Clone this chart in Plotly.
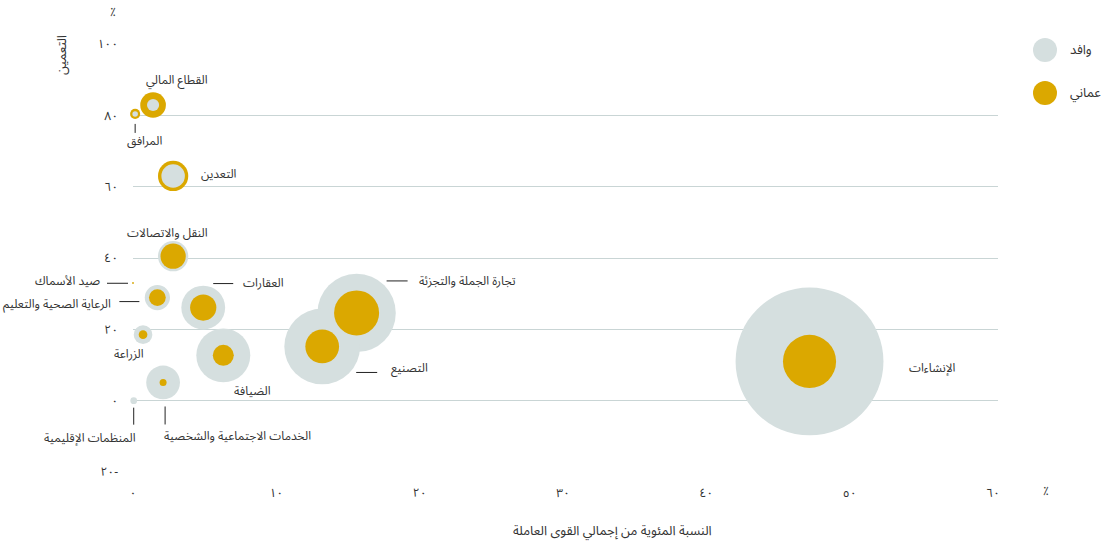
import plotly.graph_objects as go

# ---------------- data ----------------
sectors = [
    "القطاع المالي", "المرافق", "التعدين", "النقل والاتصالات", "صيد الأسماك",
    "الرعاية الصحية والتعليم", "العقارات", "الزراعة", "الضيافة",
    "الخدمات الاجتماعية والشخصية", "المنظمات الإقليمية", "التصنيع",
    "تجارة الجملة والتجزئة", "الإنشاءات",
]
share_pct = [1.4, 0.15, 2.8, 2.8, 0.0, 1.7, 4.9, 0.7, 6.3, 2.1, 0.05, 13.2, 15.6, 47.2]
omanization_pct = [82.9, 80.4, 63.0, 40.5, 33.0, 28.9, 26.1, 18.5, 12.7, 5.1, 0.0, 15.2, 24.6, 11.0]
omani_k = [16.1, 2.5, 22.5, 15.6, 0.1, 6.9, 16.9, 1.85, 10.8, 1.2, 0.0, 27.9, 49.7, 69.2]
expat_k = [3.6, 0.75, 13.5, 22.5, 0.02, 15.6, 47.1, 8.5, 71.3, 27.9, 1.1, 140.6, 150.5, 535.8]

x_ticks = [0, 10, 20, 30, 40, 50, 60]
x_ticktext = ["٠", "١٠", "٢٠", "٣٠", "٤٠", "٥٠", "٦٠"]
y_ticks = [-20, 0, 20, 40, 60, 80, 100]
y_ticktext = ["٢٠-", "٠", "٢٠", "٤٠", "٦٠", "٨٠", "١٠٠"]

legend_names = ["وافد", "عماني"]
x_title = "النسبة المئوية من إجمالي القوى العاملة"
y_title = "التعمين"

# ---------------- styles ----------------
GRAY = "#d5dfdf"
GOLD = "#dba800"
TEXT = "#333333"
GRID = "#c9d5d5"
FONT = "Noto Sans Arabic, Noto Naskh Arabic, DejaVu Sans, sans-serif"

W, H = 1106, 546
ML, MR, MT, MB = 133, 108, 44, 74
X_RANGE = [0, 60.35]
Y_RANGE = [-20, 100]
pw, ph = W - ML - MR, H - MT - MB

# label placement (pixel offsets from the bubble centre; dy positive = down)
# leader line given as (x_from, y_from, x_to, y_to) pixel offsets
label_style = {
    "القطاع المالي": (24, -24, "center", None),
    "المرافق": (9, 28, "center", (0, 10, 0, 19)),
    "التعدين": (26, -1, "left", None),
    "النقل والاتصالات": (-6, -23, "center", None),
    "صيد الأسماك": (-31, -1, "right", (-26, 0.3, -5, 0.3)),
    "الرعاية الصحية والتعليم": (-44, 7, "right", (-38, 4, -18, 4)),
    "العقارات": (38, -24, "left", (10, -24, 30, -24)),
    "الزراعة": (-14, 20, "center", None),
    "الضيافة": (29, 36, "center", None),
    "الخدمات الاجتماعية والشخصية": (-1, 54, "left", (2, 24, 2, 42)),
    "المنظمات الإقليمية": (4, 38, "right", (0, 7, 0, 24)),
    "التصنيع": (67, 22, "left", (34, 26, 55, 26)),
    "تجارة الجملة والتجزئة": (60, -31, "left", (30, -32, 51, -32)),
    "الإنشاءات": (97, 7, "left", None),
}

# ---------------- bubbles: larger drawn first ----------------
pts = []
for i in range(len(sectors)):
    if expat_k[i] > 0:
        pts.append((expat_k[i], share_pct[i], omanization_pct[i], GRAY))
    if omani_k[i] > 0:
        pts.append((omani_k[i], share_pct[i], omanization_pct[i], GOLD))
pts.sort(key=lambda p: -p[0])

fig = go.Figure()
fig.add_trace(go.Scatter(
    x=[p[1] for p in pts], y=[p[2] for p in pts], mode="markers",
    marker=dict(size=[p[0] for p in pts], sizemode="area", sizeref=0.049,
                color=[p[3] for p in pts], line=dict(width=0), opacity=1),
    cliponaxis=False, hoverinfo="skip", showlegend=False,
))

def xfrac(v):
    return (v - X_RANGE[0]) / (X_RANGE[1] - X_RANGE[0])
def yfrac(v):
    return (v - Y_RANGE[0]) / (Y_RANGE[1] - Y_RANGE[0])

annotations = []
shapes = []
for i, name in enumerate(sectors):
    dx, dy, anchor, line = label_style[name]
    annotations.append(dict(
        x=share_pct[i], y=omanization_pct[i], xref="x", yref="y",
        text=name, showarrow=False, xanchor=anchor, yanchor="middle",
        xshift=dx, yshift=-dy, font=dict(family=FONT, size=12, color=TEXT),
    ))
    if line:
        x0, y0, x1, y1 = line
        # leader line: paper-referenced so it is not clipped by the plot area
        shapes.append(dict(
            type="line", xref="paper", yref="paper",
            xsizemode="pixel", ysizemode="pixel",
            xanchor=xfrac(share_pct[i]), yanchor=yfrac(omanization_pct[i]),
            x0=x0, x1=x1, y0=-y0, y1=-y1,
            line=dict(color="#222222", width=1), layer="above",
        ))

def px(xp):
    return (xp - ML) / pw
def py(yp):
    return (H - MB - yp) / ph

# legend drawn by hand (large circles)
for k, (name, col) in enumerate(zip(legend_names, [GRAY, GOLD])):
    cy = 50 + 43 * k
    shapes.append(dict(type="circle", xref="paper", yref="paper",
                       xsizemode="pixel", ysizemode="pixel",
                       xanchor=px(1045), yanchor=py(cy),
                       x0=-12, x1=12, y0=-12, y1=12,
                       fillcolor=col, line=dict(width=0)))
    annotations.append(dict(x=px(1068), y=py(cy), xref="paper", yref="paper",
                            text=name, showarrow=False, xanchor="left", yanchor="middle",
                            font=dict(family=FONT, size=13, color=TEXT)))

# axis titles and % markers
annotations += [
    dict(x=px(612), y=py(531), xref="paper", yref="paper", text=x_title,
         showarrow=False, xanchor="center", yanchor="middle",
         font=dict(family=FONT, size=13, color=TEXT)),
    dict(x=px(62), y=py(55), xref="paper", yref="paper", text=y_title,
         showarrow=False, textangle=-90, xanchor="center", yanchor="middle",
         font=dict(family=FONT, size=13, color=TEXT)),
    dict(x=px(113), y=py(12), xref="paper", yref="paper", text="٪",
         showarrow=False, xanchor="center", yanchor="middle",
         font=dict(family=FONT, size=12, color=TEXT)),
    dict(x=px(1046), y=py(492), xref="paper", yref="paper", text="٪",
         showarrow=False, xanchor="center", yanchor="middle",
         font=dict(family=FONT, size=12, color=TEXT)),
]

fig.update_layout(
    width=W, height=H, margin=dict(l=ML, r=MR, t=MT, b=MB, autoexpand=False),
    paper_bgcolor="white", plot_bgcolor="white",
    font=dict(family=FONT, size=12, color=TEXT),
    xaxis=dict(range=X_RANGE, tickvals=x_ticks, ticktext=x_ticktext,
               showgrid=False, zeroline=False, showline=False, ticks="",
               ticklabelstandoff=12, tickfont=dict(family=FONT, size=12, color=TEXT)),
    yaxis=dict(range=Y_RANGE, tickvals=y_ticks, ticktext=y_ticktext,
               showgrid=True, gridcolor=GRID, gridwidth=1, zeroline=False,
               showline=False, ticks="", ticklabelstandoff=14,
               tickfont=dict(family=FONT, size=12, color=TEXT)),
    showlegend=False, annotations=annotations, shapes=shapes,
)

fig.write_html("out.html")
